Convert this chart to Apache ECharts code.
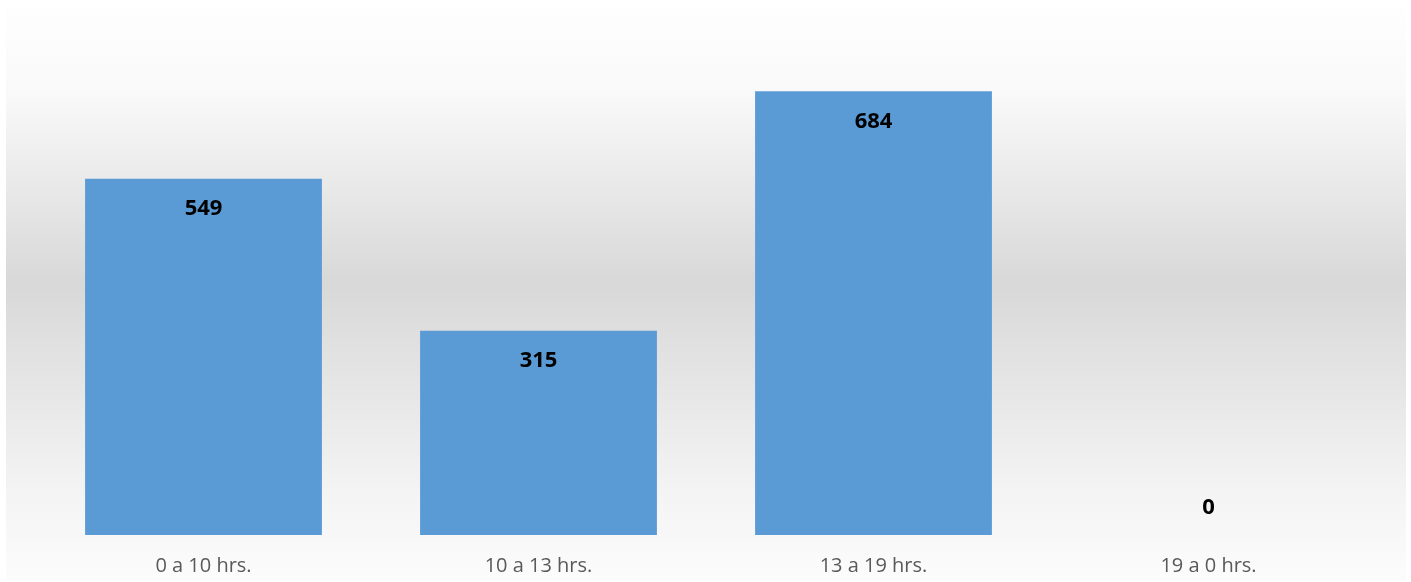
<!DOCTYPE html>
<html><head><meta charset="utf-8">
<script src="https://cdn.jsdelivr.net/npm/echarts@6/dist/echarts.min.js"></script>
<style>html,body{margin:0;padding:0;background:#fff}#c{width:1411px;height:582px}</style>
</head><body><div id="c"></div>
<script>
const categories = ['0 a 10 hrs.', '10 a 13 hrs.', '13 a 19 hrs.', '19 a 0 hrs.'];
const values = [549, 315, 684, 0];

const chart = echarts.init(document.getElementById('c'));
chart.setOption({
  animation: false,
  backgroundColor: '#ffffff',
  graphic: [{
    type: 'rect', z: -10, silent: true,
    shape: { x: 6, y: 8, width: 1400, height: 572 },
    style: {
      fill: new echarts.graphic.LinearGradient(0, 0, 0, 1, [
        { offset: 0, color: '#fefefe' },
        { offset: 0.15, color: '#f9f9f9' },
        { offset: 0.48, color: '#d8d8d8' },
        { offset: 0.85, color: '#f4f4f4' },
        { offset: 1, color: '#fcfcfc' }
      ])
    }
  }],
  grid: { left: 36, right: 35, top: 16, bottom: 47, containLabel: false },
  xAxis: {
    type: 'category', data: categories,
    axisLine: { show: false }, axisTick: { show: false },
    axisLabel: { color: '#595959', fontSize: 20, fontFamily: 'Open Sans', margin: 21 }
  },
  yAxis: {
    type: 'value', min: 0, max: 800, interval: 100,
    show: false, splitLine: { show: false }
  },
  series: [{
    type: 'bar',
    data: values.map(v => v === 0
      ? { value: v, label: { position: 'top', distance: 16 } }
      : { value: v }),
    barCategoryGap: '29.3%',
    itemStyle: { color: '#5b9bd5' },
    label: {
      show: true, position: 'insideTop', distance: 19,
      color: '#000', fontWeight: 'bold', fontSize: 22, fontFamily: 'Open Sans'
    }
  }]
});
</script></body></html>
